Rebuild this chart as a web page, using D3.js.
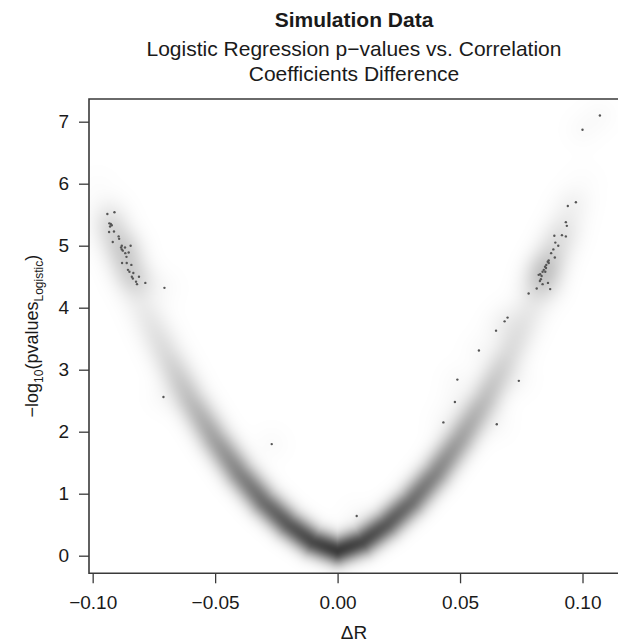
<!DOCTYPE html>
<html><head><meta charset="utf-8">
<script src="https://cdn.jsdelivr.net/npm/d3@7/dist/d3.min.js"></script>
<style>body{margin:0;background:#fff}</style>
</head><body><svg id="chart" width="618" height="642"></svg>
<script>
// ---------- data ----------
const chartTitle = "Simulation Data";
const chartSubtitle = ["Logistic Regression p\u2212values vs. Correlation", "Coefficients Difference"];
const xLabel = "\u0394R";
const xTicks = [-0.10, -0.05, 0.00, 0.05, 0.10];
const xTickLabels = ["\u22120.10", "\u22120.05", "0.00", "0.05", "0.10"];
const yTicks = [0, 1, 2, 3, 4, 5, 6, 7];
const yTickLabels = ["0", "1", "2", "3", "4", "5", "6", "7"];
const xLimits = [-0.1015, 0.1149];
const yLimits = [-0.284, 7.366];

// centre of the smoothed density band
const ridgeDeltaR  = [-0.098, -0.09, -0.08, -0.07, -0.06, -0.05, -0.04, -0.03, -0.02, -0.01, 0.00, 0.01, 0.02, 0.03, 0.04, 0.05, 0.06, 0.07, 0.08, 0.09, 0.10];
const ridgeLogP    = [5.9, 5.0, 4.05, 3.25, 2.5, 1.87, 1.32, 0.86, 0.50, 0.22, 0.08, 0.22, 0.50, 0.86, 1.32, 1.87, 2.5, 3.25, 4.05, 5.0, 6.0];
const ridgeDensity = [0.01, 0.035, 0.07, 0.14, 0.25, 0.36, 0.47, 0.56, 0.64, 0.71, 0.77, 0.71, 0.64, 0.56, 0.47, 0.36, 0.25, 0.14, 0.07, 0.035, 0.01];

// individual low-density points
const pointDeltaR = [
 -0.0940, -0.0911, -0.0932, -0.0926, -0.0922, -0.0929, -0.0933, -0.0913, -0.0894, -0.0892,
 -0.0918, -0.0881, -0.0884, -0.0881, -0.0877, -0.0868, -0.0845, -0.0867, -0.0853, -0.0862,
 -0.0880, -0.0861, -0.0842, -0.0856, -0.0850, -0.0834, -0.0840, -0.0836, -0.0811, -0.0823,
 -0.0819, -0.0785, -0.0707, -0.0711, -0.0269, 0.0078, 0.0432, 0.0479, 0.0489, 0.0650,
 0.0740, 0.0577, 0.0647, 0.0682, 0.0694, 0.0780, 0.0813, 0.0868, 0.0859, 0.0837,
 0.0826, 0.0830, 0.0821, 0.0848, 0.0833, 0.0827, 0.0837, 0.0842, 0.0851, 0.0847,
 0.0852, 0.0862, 0.0858, 0.0862, 0.0887, 0.0872, 0.0881, 0.0901, 0.0889, 0.0932,
 0.0916, 0.0885, 0.0936, 0.0932, 0.0940, 0.0973, 0.1000, 0.1071];
const pointLogP = [
 5.51, 5.54, 5.36, 5.35, 5.33, 5.31, 5.22, 5.23, 5.15, 5.11,
 5.06, 5.00, 4.97, 4.94, 4.92, 4.97, 5.00, 4.88, 4.89, 4.82,
 4.72, 4.72, 4.69, 4.61, 4.58, 4.56, 4.50, 4.47, 4.50, 4.42,
 4.38, 4.40, 4.32, 2.56, 1.80, 0.64, 2.15, 2.48, 2.84, 2.12,
 2.82, 3.31, 3.63, 3.78, 3.84, 4.23, 4.31, 4.30, 4.40, 4.38,
 4.43, 4.46, 4.53, 4.58, 4.51, 4.54, 4.58, 4.61, 4.64, 4.66,
 4.69, 4.72, 4.74, 4.76, 4.81, 4.88, 4.94, 5.00, 5.05, 5.15,
 5.17, 5.16, 5.32, 5.38, 5.64, 5.70, 6.87, 7.10];

// ---------- layout ----------
const box = {left: 89, right: 619, top: 99, bottom: 573.3};
const svg = d3.select("#chart");
const x = d3.scaleLinear().domain(xLimits).range([box.left, box.right]);
const y = d3.scaleLinear().domain(yLimits).range([box.bottom, box.top]);
const font = "'Liberation Sans', Arial, Helvetica, sans-serif";
const ink = "#1a1a1a";

// ---------- density raster ----------
const pw = Math.round(box.right - box.left), ph = Math.round(box.bottom - box.top);
const canvas = document.createElement("canvas");
canvas.width = pw; canvas.height = ph;
const ctx = canvas.getContext("2d");
const img = ctx.createImageData(pw, ph);
const rp = ridgeDeltaR.map((d, i) => [x(d), y(ridgeLogP[i]), ridgeDensity[i]]);
const pp = pointDeltaR.map((d, i) => [x(d), y(pointLogP[i])]);
for (let j = 0; j < ph; j++) {
  const py = box.top + j + 0.5;
  const sig = 9.5 + 5 * (box.bottom - py) / (box.bottom - box.top);
  const s2 = 2 * sig * sig;
  for (let i = 0; i < pw; i++) {
    const px = box.left + i + 0.5;
    let best = 0;
    for (let k = 0; k < rp.length - 1; k++) {
      const [ax, ay, ad] = rp[k], [bx, by, bd] = rp[k + 1];
      const vx = bx - ax, vy = by - ay;
      let t = ((px - ax) * vx + (py - ay) * vy) / (vx * vx + vy * vy);
      t = Math.max(0, Math.min(1, t));
      const cx = ax + t * vx, cy = ay + t * vy;
      const d2 = (px - cx) ** 2 + (py - cy) ** 2;
      const v = (ad + t * (bd - ad)) * Math.exp(-d2 / s2);
      if (v > best) best = v;
    }
    let keep = 1;
    for (const [qx, qy] of pp) {
      const d2 = (px - qx) ** 2 + (py - qy) ** 2;
      if (d2 < 1600) keep *= 1 - 0.015 * Math.exp(-d2 / 288);
    }
    const dark = 1 - (1 - best) * keep;
    const g = Math.round(255 * (1 - dark));
    const o = 4 * (j * pw + i);
    img.data[o] = g; img.data[o + 1] = g; img.data[o + 2] = g; img.data[o + 3] = 255;
  }
}
ctx.putImageData(img, 0, 0);
svg.append("image")
  .attr("x", box.left).attr("y", box.top)
  .attr("width", pw).attr("height", ph)
  .attr("href", canvas.toDataURL());

// ---------- points ----------
svg.append("g").selectAll("circle")
  .data(pointDeltaR.map((d, i) => [d, pointLogP[i]]))
  .join("circle")
  .attr("cx", d => x(d[0])).attr("cy", d => y(d[1]))
  .attr("r", 1.2).attr("fill", "#555");

// ---------- box ----------
svg.append("path")
  .attr("d", `M${box.right},${box.top}H${box.left}V${box.bottom}H${box.right}`)
  .attr("fill", "none").attr("stroke", "#3a3a3a").attr("stroke-width", 1.6);

// ---------- axes ----------
const xa = svg.append("g").attr("transform", `translate(0,${box.bottom})`)
  .call(d3.axisBottom(x).tickValues(xTicks).tickFormat((d, i) => xTickLabels[i]).tickSize(10).tickPadding(12));
const ya = svg.append("g").attr("transform", `translate(${box.left},0)`)
  .call(d3.axisLeft(y).tickValues(yTicks).tickFormat((d, i) => yTickLabels[i]).tickSize(10).tickPadding(10));
[xa, ya].forEach(a => {
  a.select(".domain").remove();
  a.selectAll("line").attr("stroke", "#3a3a3a").attr("stroke-width", 1.3);
  a.selectAll("text").attr("fill", ink).style("font-family", font).style("font-size", "19px");
});

// ---------- titles ----------
const cx = (box.left + box.right) / 2;
svg.append("text").attr("x", cx).attr("y", 27).attr("text-anchor", "middle")
  .style("font-family", font).style("font-size", "21px").style("font-weight", "bold")
  .attr("fill", ink).text(chartTitle);
chartSubtitle.forEach((s, i) => svg.append("text")
  .attr("x", cx).attr("y", 56 + i * 25).attr("text-anchor", "middle")
  .style("font-family", font).style("font-size", "21px").attr("fill", ink).text(s));
svg.append("text").attr("x", cx).attr("y", 639).attr("text-anchor", "middle")
  .style("font-family", font).style("font-size", "19px").attr("fill", ink).text(xLabel);
const yl = svg.append("text")
  .attr("transform", `translate(38,${(box.top + box.bottom) / 2}) rotate(-90)`)
  .attr("text-anchor", "middle")
  .style("font-family", font).style("font-size", "18px").attr("fill", ink);
yl.append("tspan").text("\u2212log");
yl.append("tspan").attr("dy", 5).style("font-size", "12px").text("10");
yl.append("tspan").attr("dy", -5).text("(pvalues");
yl.append("tspan").attr("dy", 5).style("font-size", "12px").text("Logistic");
yl.append("tspan").attr("dy", -5).text(")");
</script>
</body></html>
